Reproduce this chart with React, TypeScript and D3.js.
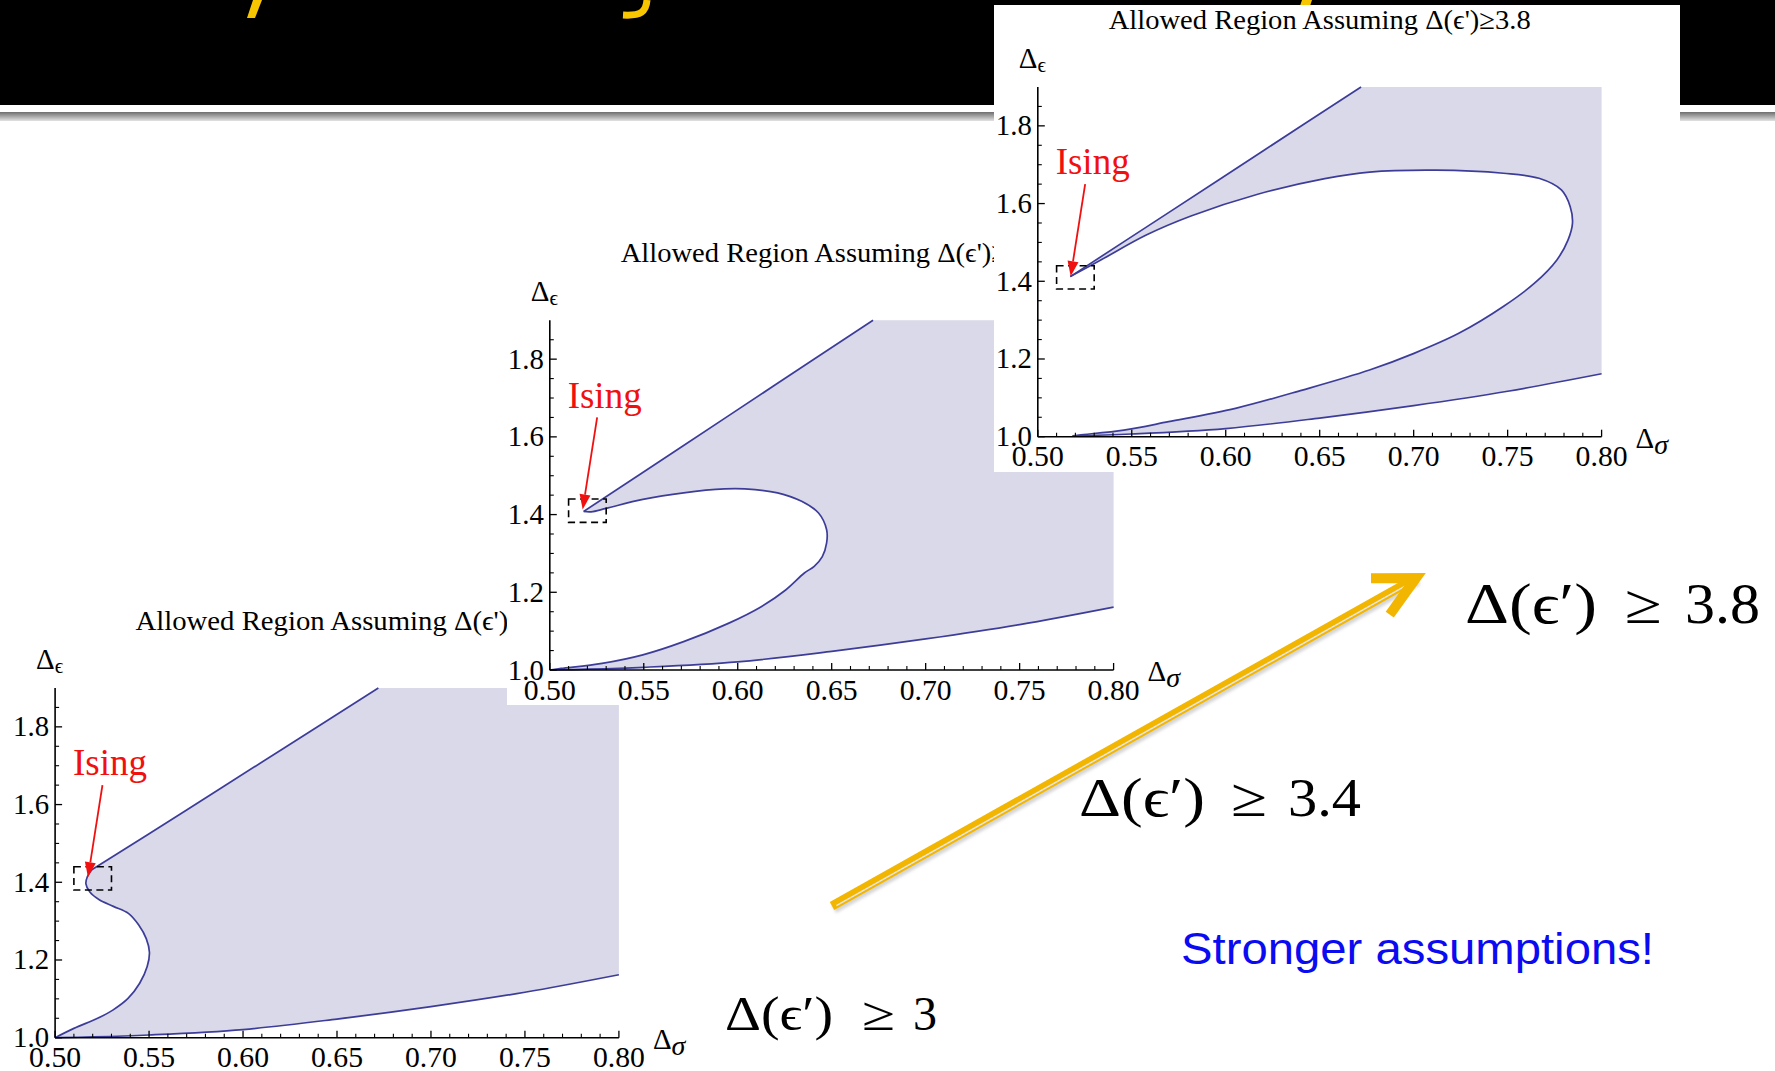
import React from 'react';
import * as d3 from 'd3';

type Pt = [number, number];

// ---------- DATA ----------
const xMajorTicks = [0.5, 0.55, 0.6, 0.65, 0.7, 0.75, 0.8];
const xTickLabels = ['0.50', '0.55', '0.60', '0.65', '0.70', '0.75', '0.80'];
const yMajorTicks = [1.0, 1.2, 1.4, 1.6, 1.8];
const yTickLabels = ['1.0', '1.2', '1.4', '1.6', '1.8'];

const assumptions = ['3', '3.4', '3.8'];

// lower bound (shared shape in all three panels)
const bottomBound: Pt[] = [
  [0.5, 1.0], [0.52, 1.002], [0.55, 1.007], [0.6, 1.021], [0.65, 1.048],
  [0.7, 1.08], [0.75, 1.117], [0.8, 1.162],
];

// panel 1: Δ(ε') ≥ 3
const upper1: Pt[] = [[0.672, 1.9], [0.62, 1.74], [0.57, 1.586], [0.5195, 1.432]];
const inner1: Pt[] = [
  [0.5195, 1.432], [0.5172, 1.415], [0.5164, 1.396], [0.5185, 1.375], [0.5235, 1.355],
  [0.531, 1.338], [0.539, 1.32], [0.5445, 1.29], [0.5485, 1.255], [0.5502, 1.22],
  [0.549, 1.183], [0.545, 1.14], [0.5388, 1.101], [0.5307, 1.071], [0.5226, 1.05],
  [0.51, 1.024], [0.5, 1.0],
];

// panel 2: Δ(ε') ≥ 3.4
const upper2: Pt[] = [[0.672, 1.9], [0.62, 1.734], [0.57, 1.574], [0.518, 1.408]];
const inner2: Pt[] = [
  [0.518, 1.408], [0.522, 1.407], [0.53, 1.416], [0.5495, 1.439], [0.5712, 1.456],
  [0.593, 1.466], [0.6038, 1.466], [0.6212, 1.456], [0.634, 1.434], [0.643, 1.404],
  [0.6473, 1.361], [0.6473, 1.327], [0.645, 1.292], [0.6407, 1.267], [0.6353, 1.249],
  [0.6255, 1.206], [0.6125, 1.163], [0.595, 1.12], [0.5712, 1.073], [0.5495, 1.039],
  [0.5278, 1.017], [0.506, 1.004], [0.5, 1.0],
];

// panel 3: Δ(ε') ≥ 3.8
const upper3: Pt[] = [[0.672, 1.9], [0.62, 1.736], [0.57, 1.578], [0.5173, 1.412]];
const inner3: Pt[] = [
  [0.5173, 1.412], [0.534, 1.456], [0.5577, 1.519], [0.5815, 1.568], [0.617, 1.624],
  [0.6527, 1.664], [0.6765, 1.681], [0.712, 1.686], [0.7477, 1.678], [0.7667, 1.665],
  [0.7786, 1.635], [0.7833, 1.592], [0.7845, 1.549], [0.7821, 1.506], [0.7762, 1.455],
  [0.7643, 1.395], [0.7477, 1.335], [0.724, 1.266], [0.7002, 1.2145], [0.6765, 1.1716],
  [0.6408, 1.12], [0.6052, 1.073], [0.5696, 1.0386], [0.5458, 1.017], [0.522, 1.0043],
  [0.5185, 1.002],
];

// annotation (data coords)
const isingLabel: Pt = [0.5095, 1.675];
const isingArrowFrom: Pt = [0.5252, 1.65];
const isingArrowTo: Pt = [0.5175, 1.413];
const isingBoxX = [0.51, 0.53];
const isingBoxY = [1.38, 1.44];

// ---------- LAYOUT ----------
const W = 1775;
const H = 1071;
const PLOT_W = 563.8;
const PLOT_H = 349.7;
const CURVE = '#3d3d99';
const FILL = '#d9d9e9';
const SERIF = '"Liberation Serif", "Times New Roman", serif';

type ChartProps = {
  ox: number;
  oy: number;
  upper: Pt[];
  inner: Pt[];
  value: string;
  titleLen: number;
  box: [number, number, number, number];
};

function Chart({ ox, oy, upper, inner, value, titleLen, box }: ChartProps) {
  const x = d3.scaleLinear().domain([0.5, 0.8]).range([ox, ox + PLOT_W]);
  const y = d3.scaleLinear().domain([1.0, 1.9]).range([oy, oy - PLOT_H]);
  const line = d3
    .line<Pt>()
    .x((d) => x(d[0]))
    .y((d) => y(d[1]))
    .curve(d3.curveCatmullRom.alpha(0.5));
  const last = inner[inner.length - 1];
  const bot: Pt[] = [last, ...bottomBound.filter((p) => p[0] > last[0] + 0.002)];
  const upperPath = line(upper) as string;
  const innerPath = line(inner) as string;
  const botPath = line(bot) as string;
  const cont = (p: string) => 'L' + p.slice(1);
  const fillPath = upperPath + cont(innerPath) + cont(botPath) + `L${x(0.8)},${y(1.9)}Z`;

  const xMinor = d3.range(0.5, 0.8001, 0.01).filter((v) => !xMajorTicks.some((m) => Math.abs(m - v) < 1e-6));
  const yMinor = d3.range(1.05, 1.8501, 0.05).filter((v) => !yMajorTicks.some((m) => Math.abs(m - v) < 1e-6));

  // arrow head
  const tx = x(isingArrowTo[0]);
  const ty = y(isingArrowTo[1]);
  const fx = x(isingArrowFrom[0]);
  const fy = y(isingArrowFrom[1]);
  const len = Math.hypot(tx - fx, ty - fy);
  const ux = (tx - fx) / len;
  const uy = (ty - fy) / len;
  const hl = 15;
  const hw = 5.5;
  const bx = tx - ux * hl;
  const by = ty - uy * hl;
  const head = `M${tx},${ty}L${bx - uy * hw},${by + ux * hw}L${bx + uy * hw},${by - ux * hw}Z`;

  return (
    <g>
      <rect x={box[0]} y={box[1]} width={box[2] - box[0]} height={box[3] - box[1]} fill="#fff" />
      <text
        x={ox + PLOT_W / 2}
        y={oy - 408}
        textAnchor="middle"
        fontFamily={SERIF}
        fontSize={28}
        textLength={titleLen}
        lengthAdjust="spacingAndGlyphs"
        fill="#000"
      >
        {`Allowed Region Assuming Δ(ϵ')≥${value}`}
      </text>
      <path d={fillPath} fill={FILL} stroke="none" />
      <path d={upperPath} fill="none" stroke={CURVE} strokeWidth={1.7} />
      <path d={innerPath} fill="none" stroke={CURVE} strokeWidth={1.7} />
      <path d={botPath} fill="none" stroke={CURVE} strokeWidth={1.7} />

      {/* axes */}
      <line x1={ox} y1={oy} x2={ox} y2={y(1.9)} stroke="#000" strokeWidth={1.6} />
      <line x1={ox} y1={oy} x2={x(0.8)} y2={oy} stroke="#000" strokeWidth={1.6} />
      {xMajorTicks.map((v) => (
        <line key={'xm' + v} x1={x(v)} x2={x(v)} y1={oy} y2={oy - 7} stroke="#000" strokeWidth={1.3} />
      ))}
      {xMinor.map((v) => (
        <line key={'xn' + v} x1={x(v)} x2={x(v)} y1={oy} y2={oy - 4} stroke="#000" strokeWidth={1.1} />
      ))}
      {yMajorTicks.map((v) => (
        <line key={'ym' + v} x1={ox} x2={ox + 7} y1={y(v)} y2={y(v)} stroke="#000" strokeWidth={1.3} />
      ))}
      {yMinor.map((v) => (
        <line key={'yn' + v} x1={ox} x2={ox + 4} y1={y(v)} y2={y(v)} stroke="#000" strokeWidth={1.1} />
      ))}
      {xMajorTicks.map((v, i) => (
        <text
          key={'xl' + v}
          x={x(v)}
          y={oy + 29.5}
          textAnchor="middle"
          fontFamily={SERIF}
          fontSize={29}
          textLength={52}
          lengthAdjust="spacingAndGlyphs"
          fill="#000"
        >
          {xTickLabels[i]}
        </text>
      ))}
      {yMajorTicks.map((v, i) => (
        <text
          key={'yl' + v}
          x={ox - 6}
          y={y(v) + 9.5}
          textAnchor="end"
          fontFamily={SERIF}
          fontSize={29}
          textLength={36}
          lengthAdjust="spacingAndGlyphs"
          fill="#000"
        >
          {yTickLabels[i]}
        </text>
      ))}
      <text x={ox - 19} y={oy - 369} fontFamily={SERIF} fontSize={29} fill="#000">
        Δ<tspan fontSize={21} dy={4}>ϵ</tspan>
      </text>
      <text x={ox + PLOT_W + 34} y={oy + 11} fontFamily={SERIF} fontSize={29} fill="#000">
        Δ<tspan fontSize={28} fontStyle="italic" dy={6}>σ</tspan>
      </text>

      {/* Ising annotation */}
      <rect
        x={x(isingBoxX[0])}
        y={y(isingBoxY[1])}
        width={x(isingBoxX[1]) - x(isingBoxX[0])}
        height={y(isingBoxY[0]) - y(isingBoxY[1])}
        fill="none"
        stroke="#000"
        strokeWidth={1.6}
        strokeDasharray="7,4.5"
      />
      <line x1={fx} y1={fy} x2={bx} y2={by} stroke="#f01010" strokeWidth={1.8} />
      <path d={head} fill="#f01010" />
      <text x={x(isingLabel[0])} y={y(isingLabel[1])} fontFamily={SERIF} fontSize={37} fill="#f01010">
        Ising
      </text>
    </g>
  );
}

function LatexLabel({ x0, base, fs, w1, gx, gw, nx, nw, value }: {
  x0: number; base: number; fs: number; w1: number; gx: number; gw: number; nx: number; nw: number; value: string;
}) {
  return (
    <g fontFamily={SERIF} fill="#000">
      <text x={x0} y={base} fontSize={fs} textLength={w1} lengthAdjust="spacingAndGlyphs">Δ(ϵ′)</text>
      <text x={gx} y={base} fontSize={fs} textLength={gw} lengthAdjust="spacingAndGlyphs">≥</text>
      <text x={nx} y={base} fontSize={fs} textLength={nw} lengthAdjust="spacingAndGlyphs">{value}</text>
    </g>
  );
}

export default function App() {
  // yellow arrow geometry (decorative slide arrow)
  const ax0 = 832, ay0 = 906, ax1 = 1416, ay1 = 578;
  const L = Math.hypot(ax1 - ax0, ay1 - ay0);
  const ux = (ax1 - ax0) / L, uy = (ay1 - ay0) / L;
  const back = Math.atan2(-uy, -ux);
  const arm = 45;
  const a1 = back + (29 * Math.PI) / 180;
  const a2 = back - (25 * Math.PI) / 180;
  const p1 = [ax1 + arm * Math.cos(a1), ay1 + arm * Math.sin(a1)];
  const p2 = [ax1 + arm * Math.cos(a2), ay1 + arm * Math.sin(a2)];
  const nx = -uy, ny = ux; // perpendicular

  return (
    <svg
      width={W}
      height={H}
      viewBox={`0 0 ${W} ${H}`}
      style={{ position: 'absolute', left: 0, top: 0, display: 'block', background: '#fff' }}
    >
      <defs>
        <linearGradient id="bar" x1="0" y1="0" x2="0" y2="1">
          <stop offset="0" stopColor="#6e6e6e" />
          <stop offset="1" stopColor="#e2e2e2" />
        </linearGradient>
        <filter id="sh" x="-10%" y="-10%" width="120%" height="120%">
          <feGaussianBlur stdDeviation="1.5" />
        </filter>
      </defs>
      <rect x={0} y={0} width={W} height={H} fill="#fff" />
      {/* slide header band */}
      <rect x={0} y={0} width={W} height={105} fill="#000" />
      <rect x={0} y={112} width={W} height={9} fill="url(#bar)" />
      <polygon points="253,0 262,0 255,18 247,18" fill="#f7c600" />
      <path d="M647,0 C646,12 641,16 623,15" fill="none" stroke="#f7c600" strokeWidth={7} />
      <polygon points="1302,0 1312,0 1310,6 1300,6" fill="#f7c600" />

      <Chart ox={55.1} oy={1037.7} upper={upper1} inner={inner1} value={assumptions[0]} titleLen={403} box={[0, 598, 700, 1071]} />
      <Chart ox={549.8} oy={670} upper={upper2} inner={inner2} value={assumptions[1]} titleLen={422} box={[507, 225, 1205, 705]} />
      <Chart ox={1037.8} oy={436.7} upper={upper3} inner={inner3} value={assumptions[2]} titleLen={422} box={[994, 5, 1680, 472]} />

      {/* yellow arrow */}
      <g>
        <line x1={ax0 + 2} y1={ay0 + 3} x2={ax1 + 2} y2={ay1 + 3} stroke="#999" strokeOpacity={0.4} strokeWidth={9} filter="url(#sh)" />
        <line x1={ax0} y1={ay0} x2={ax1 - ux * 4} y2={ay1 - uy * 4} stroke="#f2b600" strokeWidth={9} />
        <line
          x1={ax0 + nx * 1.8 + ux * 4}
          y1={ay0 + ny * 1.8 + uy * 4}
          x2={ax1 + nx * 1.8 - ux * 14}
          y2={ay1 + ny * 1.8 - uy * 14}
          stroke="#e6e6e6"
          strokeWidth={1.5}
        />
        <path
          d={`M${p1[0]},${p1[1]}L${ax1},${ay1}L${p2[0]},${p2[1]}`}
          fill="none"
          stroke="#f2b600"
          strokeWidth={10}
          strokeLinejoin="miter"
          strokeMiterlimit={10}
        />
      </g>

      <LatexLabel x0={1465} base={623} fs={56} w1={132} gx={1625} gw={37} nx={1685} nw={75} value={assumptions[2]} />
      <LatexLabel x0={1079} base={816} fs={55} w1={126} gx={1231} gw={36} nx={1288} nw={73} value={assumptions[1]} />
      <LatexLabel x0={725} base={1030} fs={48} w1={108} gx={862} gw={33} nx={913} nw={24} value={assumptions[0]} />

      <text
        x={1181}
        y={964}
        fontFamily='"Liberation Sans", Arial, sans-serif'
        fontSize={45}
        fill="#0b0bf2"
        textLength={473}
        lengthAdjust="spacingAndGlyphs"
      >
        Stronger assumptions!
      </text>
    </svg>
  );
}
